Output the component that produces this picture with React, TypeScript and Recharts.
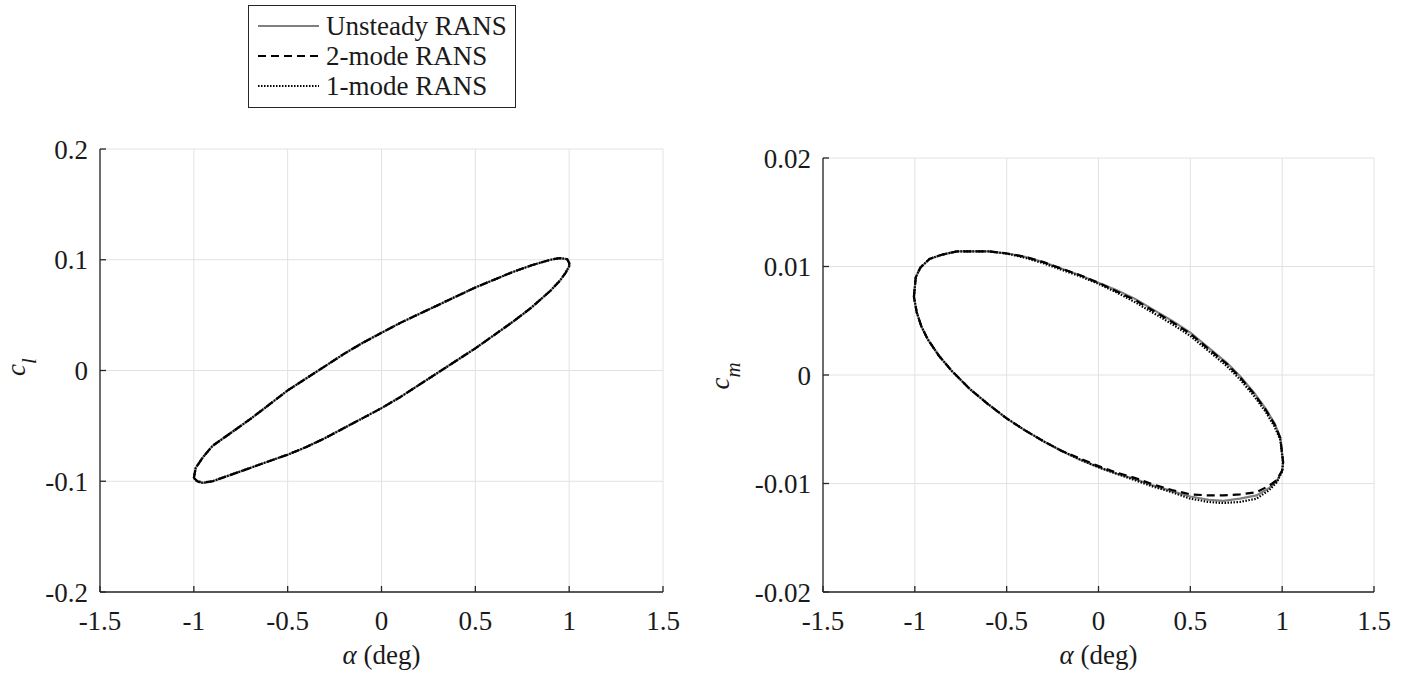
import React from 'react';
import { ScatterChart, Scatter, XAxis, YAxis, CartesianGrid } from 'recharts';

const FONT = '"Liberation Serif", "Times New Roman", Times, serif';
const INK = '#1a1a1a';
const AXIS = '#262626';
const GRID = '#e2e2e2';

// tick labels
const alphaTicks = [-1.5, -1, -0.5, 0, 0.5, 1, 1.5];
const clTicks = [-0.2, -0.1, 0, 0.1, 0.2];
const cmTicks = [-0.02, -0.01, 0, 0.01, 0.02];

// lift loop: upper branch left -> right, then lower branch back
const alphaCl = [
  -1.0, -0.99, -0.95, -0.9, -0.8, -0.7, -0.6, -0.5, -0.4, -0.3, -0.2, -0.1, 0.0, 0.1, 0.2, 0.3, 0.4,
  0.5, 0.6, 0.7, 0.8, 0.9, 0.95, 0.99, 1.0, 1.0, 0.98, 0.95, 0.9, 0.8, 0.7, 0.6, 0.5, 0.4, 0.3, 0.2,
  0.1, 0.0, -0.1, -0.2, -0.3, -0.4, -0.5, -0.6, -0.7, -0.8, -0.9, -0.95, -0.98, -1.0,
];
const clUnsteady = [
  -0.097, -0.088, -0.078, -0.068, -0.056, -0.044, -0.031, -0.018, -0.007, 0.004, 0.015, 0.025, 0.034,
  0.043, 0.051, 0.059, 0.067, 0.075, 0.082, 0.089, 0.095, 0.1, 0.1015, 0.1005, 0.097, 0.094, 0.088,
  0.081, 0.072, 0.057, 0.044, 0.032, 0.02, 0.009, -0.002, -0.013, -0.024, -0.034, -0.043, -0.052,
  -0.061, -0.069, -0.076, -0.082, -0.088, -0.094, -0.1, -0.1015, -0.1005, -0.097,
];
const cl2Mode = [
  -0.097, -0.088, -0.078, -0.068, -0.056, -0.044, -0.031, -0.018, -0.007, 0.004, 0.015, 0.025, 0.034,
  0.043, 0.051, 0.059, 0.067, 0.075, 0.082, 0.089, 0.095, 0.1, 0.1015, 0.1005, 0.097, 0.094, 0.088,
  0.081, 0.072, 0.057, 0.044, 0.032, 0.02, 0.009, -0.002, -0.013, -0.024, -0.034, -0.043, -0.052,
  -0.061, -0.069, -0.076, -0.082, -0.088, -0.094, -0.1, -0.101, -0.1, -0.097,
];
const cl1Mode = [
  -0.097, -0.088, -0.078, -0.068, -0.056, -0.044, -0.031, -0.018, -0.007, 0.004, 0.015, 0.025, 0.034,
  0.043, 0.051, 0.059, 0.067, 0.075, 0.082, 0.089, 0.095, 0.1, 0.1015, 0.1005, 0.097, 0.094, 0.088,
  0.081, 0.072, 0.057, 0.044, 0.032, 0.02, 0.009, -0.002, -0.013, -0.024, -0.034, -0.043, -0.052,
  -0.061, -0.069, -0.076, -0.082, -0.088, -0.094, -0.1, -0.1015, -0.1005, -0.097,
];

// moment loop
const alphaCm = [
  -1.005, -0.995, -0.97, -0.92, -0.85, -0.77, -0.6, -0.5, -0.4, -0.3, -0.2, -0.1, 0.0, 0.1, 0.2, 0.3,
  0.4, 0.5, 0.6, 0.7, 0.77, 0.85, 0.91, 0.96, 0.99, 1.005, 1.0, 0.97, 0.93, 0.86, 0.77, 0.68, 0.6,
  0.5, 0.4, 0.3, 0.2, 0.1, 0.0, -0.1, -0.2, -0.3, -0.4, -0.5, -0.6, -0.7, -0.8, -0.87, -0.93, -0.965,
  -0.99, -1.005,
];
const cmUnsteady = [
  0.0072, 0.009, 0.0099, 0.0107, 0.0111, 0.0114, 0.0114, 0.0112, 0.0109, 0.0104, 0.0098, 0.0092,
  0.0085, 0.0078, 0.007, 0.006, 0.005, 0.0039, 0.0025, 0.0011, -0.0001, -0.0017, -0.0031, -0.0045,
  -0.0058, -0.008, -0.0088, -0.0098, -0.0104, -0.0111, -0.0114, -0.0116, -0.0115, -0.0112, -0.0107,
  -0.0102, -0.0096, -0.0091, -0.0085, -0.0078, -0.007, -0.0061, -0.0051, -0.004, -0.0027, -0.0013,
  0.0004, 0.0018, 0.0033, 0.0045, 0.0058, 0.0072,
];
const cm2Mode = [
  0.0072, 0.009, 0.0099, 0.0107, 0.0111, 0.0114, 0.0114, 0.0112, 0.0109, 0.0104, 0.0098, 0.0092,
  0.0085, 0.0077, 0.0069, 0.0059, 0.0049, 0.0038, 0.0024, 0.001, -0.0002, -0.0018, -0.0032, -0.0046,
  -0.0058, -0.008, -0.0088, -0.0097, -0.0102, -0.0108, -0.011, -0.0111, -0.0111, -0.011, -0.0106,
  -0.0101, -0.0095, -0.009, -0.0084, -0.0077, -0.007, -0.0061, -0.0051, -0.004, -0.0027, -0.0013,
  0.0004, 0.0018, 0.0033, 0.0045, 0.0058, 0.0072,
];
const cm1Mode = [
  0.0072, 0.009, 0.0099, 0.0107, 0.0111, 0.0114, 0.0114, 0.0112, 0.0108, 0.0103, 0.0097, 0.0091,
  0.0084, 0.0076, 0.0067, 0.0057, 0.0047, 0.0036, 0.0022, 0.0008, -0.0004, -0.002, -0.0034, -0.0048,
  -0.006, -0.0081, -0.0089, -0.0099, -0.0106, -0.0114, -0.0117, -0.0118, -0.0117, -0.0114, -0.0108,
  -0.0103, -0.0097, -0.0091, -0.0085, -0.0078, -0.007, -0.0061, -0.0051, -0.004, -0.0027, -0.0013,
  0.0004, 0.0018, 0.0033, 0.0045, 0.0058, 0.0072,
];

const seriesNames = ['Unsteady RANS', '2-mode RANS', '1-mode RANS'];
const seriesStyles = [
  { stroke: '#808080', strokeWidth: 2.2, strokeDasharray: undefined },
  { stroke: '#000000', strokeWidth: 2.2, strokeDasharray: '8 5' },
  { stroke: '#000000', strokeWidth: 2.2, strokeDasharray: '1.5 1.5' },
];

const toPoints = (xs: number[], ys: number[]) => xs.map((a, i) => ({ a, c: ys[i] }));

const noDot = () => <g />;

const tickStyle = { fontSize: 27, fill: INK, fontFamily: FONT };

const XTitle = ({ cx0 }: { cx0: number }) => (
  <text x={cx0} y={664} textAnchor="middle" fontFamily={FONT} fontSize={27} fill={INK}>
    <tspan fontStyle="italic">α</tspan> (deg)
  </text>
);

const YTitle = ({ px, py, sub }: { px: number; py: number; sub: string }) => (
  <text
    x={px}
    y={py}
    transform={`rotate(-90 ${px} ${py})`}
    textAnchor="middle"
    fontFamily={FONT}
    fontSize={27}
    fill={INK}
  >
    <tspan fontStyle="italic">c</tspan>
    <tspan fontStyle="italic" fontSize={21} dy={11}>
      {sub}
    </tspan>
  </text>
);

type PanelProps = {
  left: number;
  width: number;
  margin: { top: number; right: number; bottom: number; left: number };
  yTicks: number[];
  series: { a: number; c: number }[][];
  sub: string;
  yTitleX: number;
  yTitleY: number;
};

const Panel = ({ left, width, margin, yTicks, series, sub, yTitleX, yTitleY }: PanelProps) => {
  const plotCx = margin.left + 60 + (width - margin.left - 60 - margin.right) / 2;
  return (
    <div style={{ position: 'absolute', left, top: 0 }}>
      <ScatterChart width={width} height={674} margin={margin}>
        <CartesianGrid stroke={GRID} strokeWidth={1} />
        <XAxis
          type="number"
          dataKey="a"
          domain={[-1.5, 1.5]}
          ticks={alphaTicks}
          interval={0}
          height={60}
          tickSize={-6}
          tickMargin={25}
          tick={tickStyle}
          tickFormatter={(v: number) => String(v)}
          axisLine={{ stroke: AXIS, strokeWidth: 1.3 }}
          tickLine={{ stroke: AXIS, strokeWidth: 1.3 }}
          allowDataOverflow
          label={<XTitle cx0={plotCx} />}
        />
        <YAxis
          type="number"
          dataKey="c"
          domain={[yTicks[0], yTicks[yTicks.length - 1]]}
          ticks={yTicks}
          interval={0}
          width={60}
          tickSize={-6}
          tickMargin={18}
          tick={tickStyle}
          tickFormatter={(v: number) => String(v)}
          axisLine={{ stroke: AXIS, strokeWidth: 1.3 }}
          tickLine={{ stroke: AXIS, strokeWidth: 1.3 }}
          allowDataOverflow
          label={<YTitle px={yTitleX} py={yTitleY} sub={sub} />}
        />
        {series.map((pts, i) => (
          <Scatter
            key={seriesNames[i]}
            name={seriesNames[i]}
            data={pts}
            line={seriesStyles[i]}
            lineType="joint"
            shape={noDot}
            isAnimationActive={false}
          />
        ))}
      </ScatterChart>
    </div>
  );
};

const LegendBox = () => (
  <div
    style={{
      position: 'absolute',
      left: 248,
      top: 5,
      width: 266,
      height: 101,
      border: `1px solid ${AXIS}`,
      background: '#fff',
    }}
  >
    <svg width={266} height={101}>
      {seriesNames.map((name, i) => (
        <g key={name}>
          <line
            x1={9}
            x2={70}
            y1={20 + i * 30}
            y2={20 + i * 30}
            stroke={seriesStyles[i].stroke}
            strokeWidth={seriesStyles[i].strokeWidth}
            strokeDasharray={seriesStyles[i].strokeDasharray}
          />
          <text x={77} y={29 + i * 30} fontFamily={FONT} fontSize={27} fill={INK}>
            {name}
          </text>
        </g>
      ))}
    </svg>
  </div>
);

export default function App() {
  const clSeries = [toPoints(alphaCl, clUnsteady), toPoints(alphaCl, cl2Mode), toPoints(alphaCl, cl1Mode)];
  const cmSeries = [toPoints(alphaCm, cmUnsteady), toPoints(alphaCm, cm2Mode), toPoints(alphaCm, cm1Mode)];
  return (
    <div style={{ position: 'absolute', left: 0, top: 0, width: 1412, height: 674, background: '#fff' }}>
      <Panel
        left={0}
        width={700}
        margin={{ top: 149, right: 37, bottom: 22, left: 40 }}
        yTicks={clTicks}
        series={clSeries}
        sub="l"
        yTitleX={25}
        yTitleY={367}
      />
      <Panel
        left={706}
        width={706}
        margin={{ top: 158, right: 38, bottom: 22, left: 57 }}
        yTicks={cmTicks}
        series={cmSeries}
        sub="m"
        yTitleX={23}
        yTitleY={376}
      />
      <LegendBox />
    </div>
  );
}
